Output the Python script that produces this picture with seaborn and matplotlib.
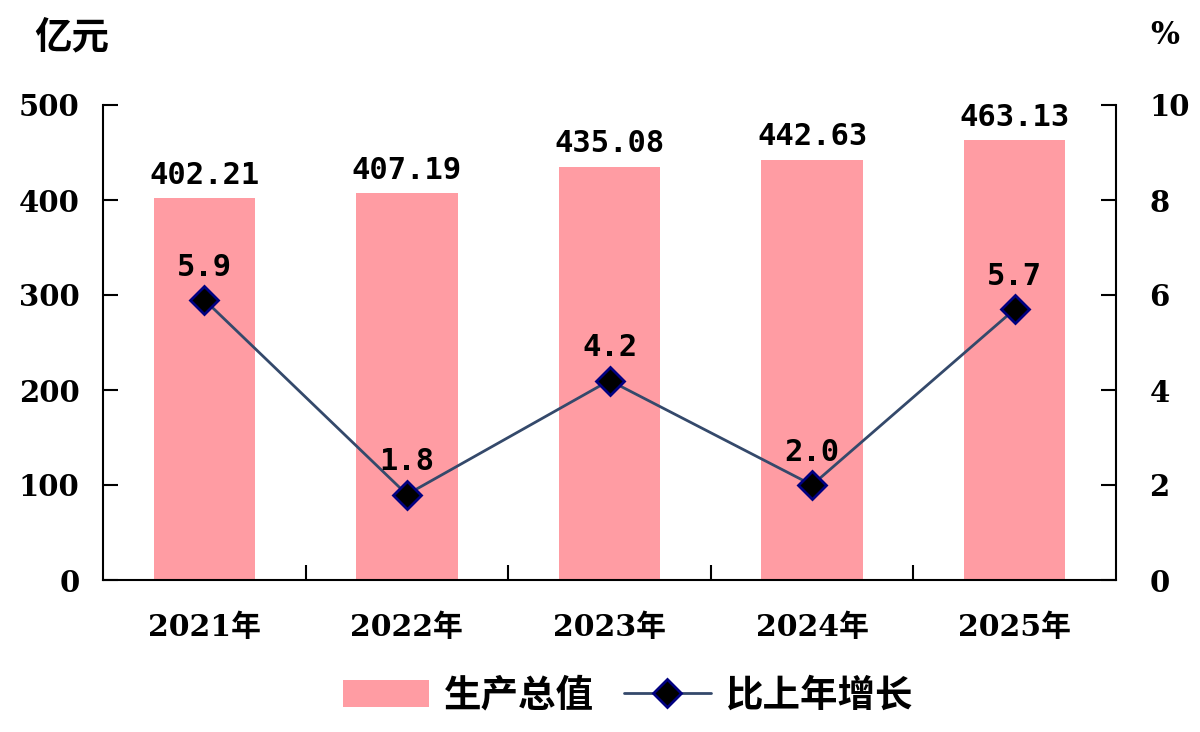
import matplotlib
matplotlib.use("Agg")
import matplotlib.pyplot as plt
import seaborn as sns
import numpy as np
import pandas as pd
from matplotlib.patches import Patch
from matplotlib.lines import Line2D
from matplotlib.ticker import FixedLocator

# ---- data ----
years = ["2021年", "2022年", "2023年", "2024年", "2025年"]
output_value = [402.21, 407.19, 435.08, 442.63, 463.13]
growth = [5.9, 1.8, 4.2, 2.0, 5.7]
left_ticks = [0, 100, 200, 300, 400, 500]
right_ticks = [0, 2, 4, 6, 8, 10]
series_names = ["生产总值", "比上年增长"]
left_unit = "亿元"
right_unit = "%"

bar_color = "#FF9CA3"
line_color = "#34496B"

sns.set_theme(style="white")
plt.rcParams["font.family"] = ["DejaVu Serif", "Noto Sans CJK SC"]
plt.rcParams["font.weight"] = "bold"
plt.rcParams["text.color"] = "black"
plt.rcParams["xtick.color"] = "black"
plt.rcParams["ytick.color"] = "black"
plt.rcParams["xtick.labelcolor"] = "black"
plt.rcParams["ytick.labelcolor"] = "black"

df = pd.DataFrame({"year": years, "value": output_value, "growth": growth})

fig = plt.figure(figsize=(12, 7.32), dpi=100)
ax = fig.add_axes([103 / 1200, 1 - 580 / 732, (1116 - 103) / 1200, (580 - 105) / 732])

sns.barplot(data=df, x="year", y="value", ax=ax, color=bar_color, width=0.5,
            saturation=1, edgecolor="none")
ax.set_ylim(0, 500)
ax.set_xlim(-0.5, len(years) - 0.5)
ax.set_xlabel("")
ax.set_ylabel("")
ax.yaxis.set_major_locator(FixedLocator(left_ticks))

ax2 = ax.twinx()
sns.pointplot(data=df, x="year", y="growth", ax=ax2, color=line_color,
              markers="D", linestyles="-", errorbar=None,
              markersize=14, markerfacecolor="black", markeredgecolor="#000080",
              markeredgewidth=2, linewidth=2)
ax2.set_ylim(0, 10)
ax2.set_xlim(-0.5, len(years) - 0.5)
ax2.set_ylabel("")
ax2.set_xlabel("")
ax2.yaxis.set_major_locator(FixedLocator(right_ticks))

# spines
for a in (ax, ax2):
    a.spines["top"].set_visible(False)
    for s in ("left", "right", "bottom"):
        a.spines[s].set_color("black")
        a.spines[s].set_linewidth(1.5)
    a.grid(False)
ax.spines["right"].set_visible(False)
ax2.spines["left"].set_visible(False)
ax2.spines["bottom"].set_visible(False)

ax.tick_params(axis="y", direction="in", length=11, width=1.5, color="black",
               labelcolor="black", pad=17, labelsize=21, left=True)
ax2.tick_params(axis="y", direction="in", length=11, width=1.5, color="black",
                labelcolor="black", pad=24, labelsize=21, right=True)
# x: labels at centers without ticks, minor ticks at boundaries
ax.tick_params(axis="x", which="major", length=0, pad=24, labelsize=21.5,
               labelcolor="black")
ax.xaxis.set_minor_locator(FixedLocator(np.arange(0.5, len(years) - 0.5, 1.0)))
ax.tick_params(axis="x", which="minor", direction="in", length=11, width=1.5,
               color="black", bottom=True)

for lab in ax.get_yticklabels() + ax2.get_yticklabels():
    lab.set_fontfamily(["DejaVu Serif"])
    lab.set_fontweight("bold")
for lab in ax.get_xticklabels():
    lab.set_fontfamily(["DejaVu Serif", "Noto Sans CJK SC"])
    lab.set_fontweight("bold")

# data labels
ax.bar_label(ax.containers[0], labels=[f"{v:.2f}" for v in output_value],
             padding=6, fontfamily=["DejaVu Sans Mono"], fontweight="bold",
             fontsize=22, color="black")
for i, g in enumerate(growth):
    ax2.annotate(f"{g:.1f}", xy=(i, g), xytext=(0, 13), textcoords="offset points",
                 ha="center", va="bottom", fontfamily=["DejaVu Sans Mono"],
                 fontweight="bold", fontsize=22, color="black")

# units
fig.text(72 / 1200, 1 - 37 / 732, left_unit, ha="center", va="center",
         fontsize=27, fontweight="bold", family=["Noto Sans CJK SC"], color="black")
fig.text(1165 / 1200, 1 - 36 / 732, right_unit, ha="center", va="center",
         fontsize=22, fontweight="bold", family=["DejaVu Serif"], color="black")

# legend
handles = [
    Patch(facecolor=bar_color, edgecolor="none"),
    Line2D([], [], color=line_color, linewidth=2, marker="D", markersize=14,
           markerfacecolor="black", markeredgecolor="#000080", markeredgewidth=2),
]
fig.legend(handles, series_names, loc="center", bbox_to_anchor=(628 / 1200, 1 - 695 / 732),
           ncol=2, frameon=False, handlelength=2.3, handleheight=0.7,
           handletextpad=0.4, columnspacing=0.8, labelcolor="black",
           prop={"family": ["Noto Sans CJK SC"], "weight": "bold", "size": 27})

fig.savefig("out.png", dpi=100, facecolor="white")
